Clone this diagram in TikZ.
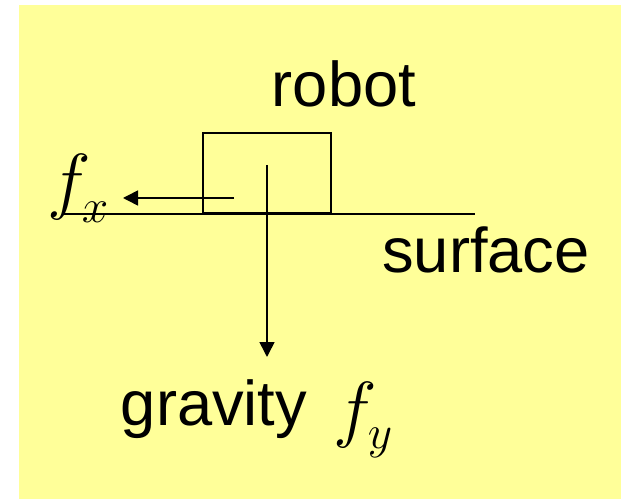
\RequirePackage{fix-cm}
\documentclass[tikz,border=0pt]{standalone}
\usepackage{fontspec}
\setmainfont{Liberation Sans}
\usetikzlibrary{arrows.meta,positioning}
\definecolor{slideYellow}{RGB}{255,255,153}
% force symbol: letter, then a big lowered subscript
\newcommand{\forcesym}[4]{{\fontsize{42}{44}\selectfont$#1$\kern#3\raisebox{#4}{\fontsize{27}{28}\selectfont$#2$}}}

\begin{document}
\begin{tikzpicture}[x=0.02cm,y=-0.02cm,
  lbl/.style={inner sep=0pt,font=\fontsize{36}{37}\selectfont,anchor=base},
  symlbl/.style={inner sep=0pt,anchor=base west},
  force/.style={line width=0.9pt,-{Triangle[length=0.3cm,width=0.3cm]}},
  plain/.style={line width=0.9pt}]
\useasboundingbox (0,0) rectangle (621,499);
\fill[slideYellow] (19,5) rectangle (621,499);

% the robot on the ground
\node[draw,plain,inner sep=0pt,minimum width=2.56cm,minimum height=1.6cm,anchor=south west] (robotbox) at (202,214) {};
\coordinate (surfL) at (62,214);
\coordinate (surfR) at (475,214);
\draw[plain] (surfL) -- (surfR);

% labels
\node[lbl] (robot) at (344,107) {robot};
\node[lbl] (surface) at (486,273) {surface};
\node[lbl] (gravity) at (214,425) {gravity};
\node[symlbl] (fx) at (47,206) {\forcesym{f}{x}{-0.18cm}{-0.34cm}};
\node[symlbl] (fy) at (333,433) {\forcesym{f}{y}{-0.18cm}{-0.31cm}};

% forces
\coordinate (fxstart) at (234,198);
\coordinate (fxend) at (123,198);
\coordinate (fystart) at (267,165);
\coordinate (fyend) at (267,357);
\draw[force] (fxstart) -- (fxend);
\draw[force] (fystart) -- (fyend);
\end{tikzpicture}
\end{document}
